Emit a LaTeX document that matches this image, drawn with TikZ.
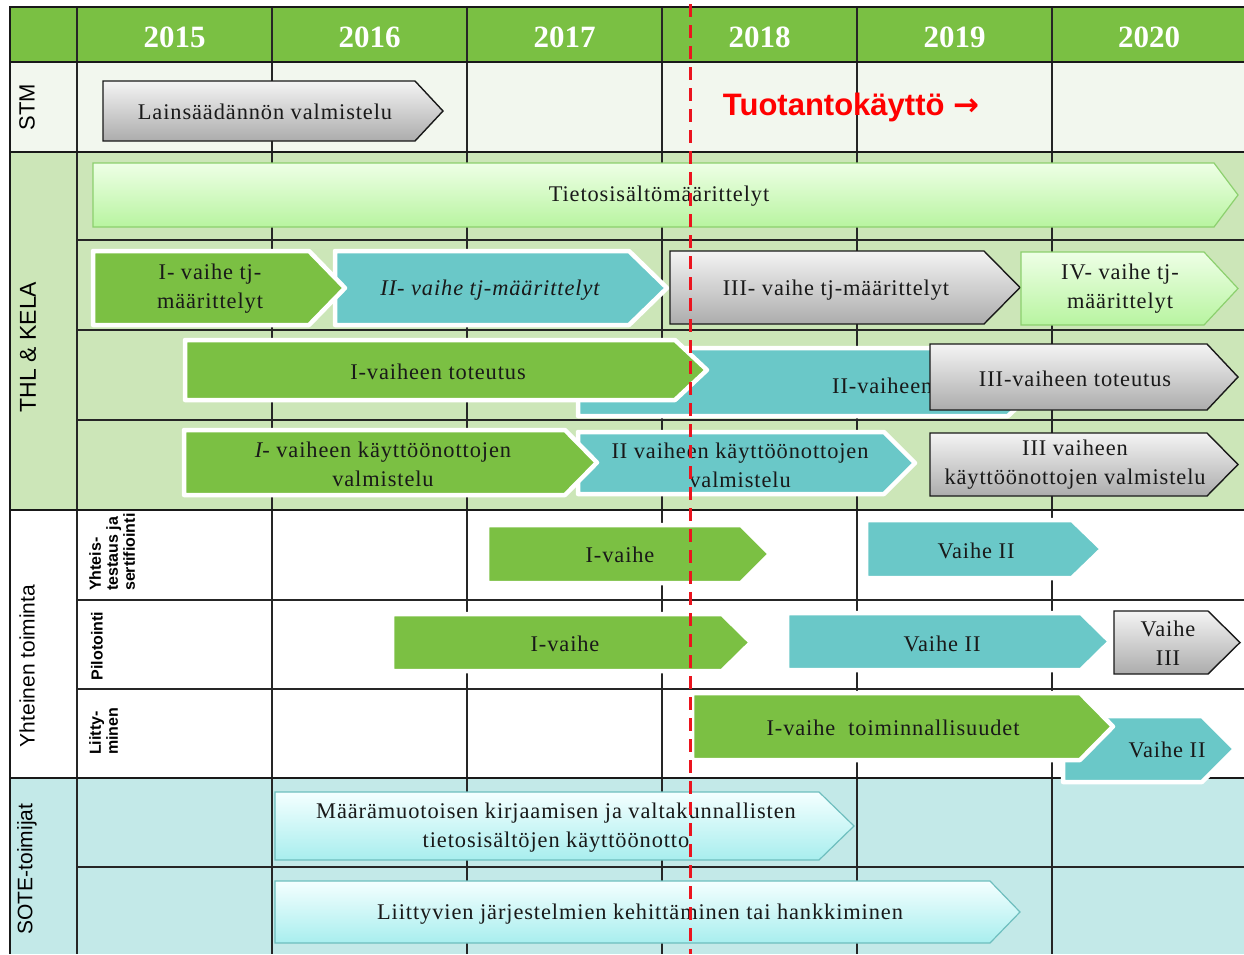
\documentclass[tikz,border=0pt]{standalone}
\usepackage{fontspec}
\setmainfont{Liberation Serif}
\newfontfamily\bxfont[LetterSpace=4]{Liberation Serif}
\newfontfamily\lbfont{Liberation Sans}
\newfontfamily\djfont{DejaVu Sans}
\definecolor{hdrgreen}{RGB}{122,192,67}
\definecolor{boxgreen}{RGB}{123,192,67}
\definecolor{boxteal}{RGB}{106,200,200}
\definecolor{thlbg}{RGB}{204,230,184}
\definecolor{stmbg}{RGB}{242,247,238}
\definecolor{sotebg}{RGB}{195,233,232}
\definecolor{grayT}{RGB}{244,244,244}
\definecolor{grayB}{RGB}{172,172,172}
\definecolor{lgT}{RGB}{238,255,230}
\definecolor{lgB}{RGB}{184,244,160}
\definecolor{lgD}{RGB}{140,208,110}
\definecolor{lcT}{RGB}{244,255,255}
\definecolor{lcB}{RGB}{168,238,238}
\definecolor{lcD}{RGB}{110,190,190}
\definecolor{redline}{RGB}{235,20,30}
\newcommand{\chev}[6]{\path[#1] (#2,#3) -- ({#4-#6},#3) -- (#4,{(#3+#5)/2}) -- ({#4-#6},#5) -- (#2,#5) -- cycle;}
\begin{document}
\begin{tikzpicture}[x=1pt,y=-1pt,
  gbox/.style={fill=boxgreen, draw=white, line width=4.5pt, line join=round},
  tbox/.style={fill=boxteal, draw=white, line width=4.5pt, line join=round},
  graybox/.style={top color=grayT, bottom color=grayB, draw=black!90, line width=1.4pt},
  lgbox/.style={top color=lgT, bottom color=lgB, draw=lgD, line width=1.2pt},
  lcbox/.style={top color=lcT, bottom color=lcB, draw=lcD, line width=1.2pt},
  btxt/.style={font=\bxfont\fontsize{22.4}{29}\selectfont, align=center, inner sep=0pt, text=black!90},
  year/.style={font=\bfseries\fontsize{31}{31}\selectfont, text=white, inner sep=0pt},
  gridl/.style={line width=1.5pt, black!85},
  sect/.style={line width=2pt, black!90},
  rlab/.style={rotate=90, font=\lbfont\fontsize{22}{24}\selectfont, inner sep=0pt},
  slab/.style={rotate=90, font=\lbfont\bfseries\fontsize{16}{17}\selectfont, align=left, inner sep=0pt, anchor=north west}]
\useasboundingbox (0,0) rectangle (1244,954);
% backgrounds
\fill[white] (0,0) rectangle (1244,954);
\fill[hdrgreen] (10,7) rectangle (1244,62);
\fill[stmbg] (10,62) rectangle (1244,152);
\fill[thlbg] (10,152) rectangle (1244,510);
\fill[white] (10,510) rectangle (1244,778);
\fill[sotebg] (10,778) rectangle (1244,954);
% grid
\foreach \x in {77,272,467,662,857,1052} \draw[gridl] (\x,7) -- (\x,954);
\draw[sect] (10,6) -- (10,954);
\foreach \y in {7,62,152,510,778} \draw[sect] (10,\y) -- (1244,\y);
\foreach \y in {240,330,420,600,689,867} \draw[gridl] (77,\y) -- (1244,\y);
% years
\node[year] (y15) at (174.5,37) {2015};
\node[year] (y16) at (369.5,37) {2016};
\node[year] (y17) at (564.5,37) {2017};
\node[year] (y18) at (759.5,37) {2018};
\node[year] (y19) at (954.5,37) {2019};
\node[year] (y20) at (1149,37) {2020};
% row labels
\node[rlab] (lstm) at (27,107) {STM};
\node[rlab, font=\lbfont\fontsize{23}{24}\selectfont] (lthl) at (28,347) {THL \& KELA};
\node[rlab, font=\lbfont\fontsize{21}{24}\selectfont] (lyht) at (27,666) {Yhteinen toiminta};
\node[rlab, font=\lbfont\fontsize{21}{24}\selectfont] (lsote) at (27,869) {SOTE-toimijat};
\node[slab] (lyt) at (89,591) {Yhteis-\\testaus ja\\sertifiointi};
\node[slab, anchor=center] (lpil) at (97,646) {Pilotointi};
\node[slab] (lliit) at (89,755) {Liitty-\\minen};
% STM
\chev{graybox}{103}{81}{443}{141}{28}
\node[btxt] (tlains) at (265,112) {Lainsäädännön valmistelu};
\node[font=\lbfont\bfseries\fontsize{31}{32}\selectfont, text=red, inner sep=0pt] (ttuot) at (851,107) {Tuotantokäyttö {\djfont\bfseries →}};
% THL & KELA
\chev{lgbox}{93}{163}{1238}{227}{24}
\node[btxt] (ttieto) at (659,196) {Tietosisältömäärittelyt};
\chev{tbox}{335}{251}{667}{325}{38}
\node[btxt, font=\bxfont\itshape\fontsize{22.4}{29}\selectfont] (ttj2) at (490,290) {II- vaihe tj-määrittelyt};
\chev{gbox}{93}{251}{345}{325}{36}
\node[btxt] (ttj1) at (210,289) {I- vaihe tj-\\määrittelyt};
\chev{graybox}{670}{251}{1020}{324}{36}
\node[btxt] (ttj3) at (836,290) {III- vaihe tj-määrittelyt};
\chev{lgbox}{1021}{252}{1238}{325}{34}
\node[btxt] (ttj4) at (1120,289) {IV- vaihe tj-\\määrittelyt};
\chev{tbox}{578}{348}{1044}{416}{36}
\node[btxt, anchor=west] (ttot2) at (832,386) {II-vaiheen};
\chev{gbox}{185}{340}{707}{400}{32}
\node[btxt] (ttot1) at (438,372) {I-vaiheen toteutus};
\chev{graybox}{930}{344}{1238}{410}{31}
\node[btxt] (ttot3) at (1075,379) {III-vaiheen toteutus};
\chev{tbox}{578}{432}{915}{494}{31}
\node[btxt] (tkay2) at (740,465) {II vaiheen käyttöönottojen\\valmistelu};
\chev{gbox}{184}{430}{597}{495}{32}
\node[btxt] (tkay1) at (383,464) {{\itshape I}- vaiheen käyttöönottojen\\valmistelu};
\chev{graybox}{930}{433}{1238}{496}{31}
\node[btxt] (tkay3) at (1075,465) {III vaiheen\\käyttöönottojen valmistelu};
% Yhteinen toiminta
\chev{gbox}{487}{525}{770}{583}{29}
\node[btxt] (tyt1) at (620,555) {I-vaihe};
\chev{tbox}{866}{520}{1102}{578}{30}
\node[btxt] (tyt2) at (976,551) {Vaihe II};
\chev{gbox}{392}{614}{751}{671}{29}
\node[btxt] (tpil1) at (565,644) {I-vaihe};
\chev{tbox}{787}{613}{1110}{670}{29}
\node[btxt] (tpil2) at (942,644) {Vaihe II};
\chev{graybox}{1114}{611}{1240}{674}{32}
\node[btxt] (tpil3) at (1168,643) {Vaihe\\III};
\chev{tbox}{1063}{716}{1235}{782}{33}
\node[btxt] (tli2) at (1167,750) {Vaihe II};
\chev{gbox}{692}{693}{1113}{760}{33}
\node[btxt] (tli1) at (893,728) {I-vaihe\ \ toiminnallisuudet};
% SOTE
\chev{lcbox}{275}{792}{854}{860}{35}
\node[btxt] (tsote1) at (556,828) {Määrämuotoisen kirjaamisen ja valtakunnallisten\\tietosisältöjen käyttöönotto};
\chev{lcbox}{275}{881}{1020}{943}{30}
\node[btxt] (tsote2) at (640,914) {Liittyvien järjestelmien kehittäminen tai hankkiminen};
% red dashed line
\coordinate (rtop) at (690,4);
\coordinate (rbot) at (690,954);
\draw[redline, line width=3pt, dash pattern=on 13pt off 8pt] (rtop) -- (rbot);
\end{tikzpicture}
\end{document}
